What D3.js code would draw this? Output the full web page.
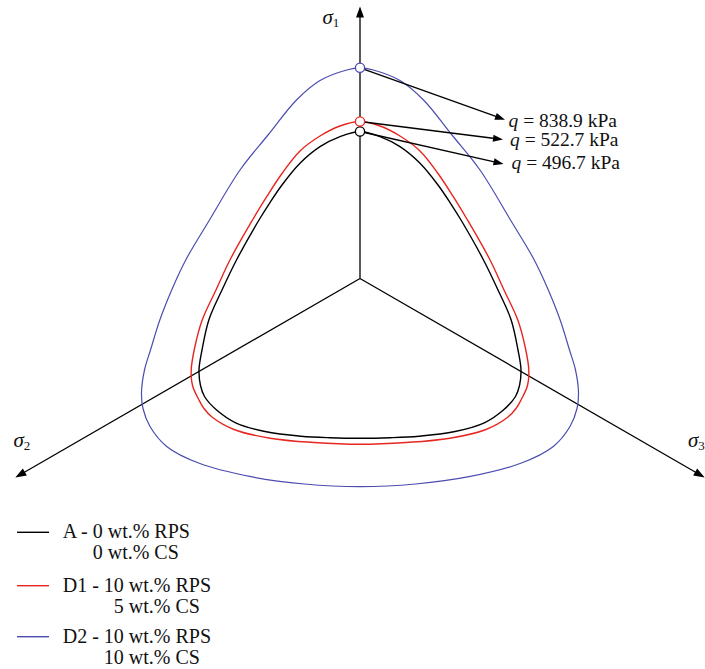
<!DOCTYPE html>
<html>
<head>
<meta charset="utf-8">
<script src="https://cdn.jsdelivr.net/npm/d3@7"></script>
<style>
  html, body { margin: 0; padding: 0; background: #fff; }
  svg { display: block; font-family: "Liberation Serif", "Times New Roman", serif; }
</style>
</head>
<body>
<svg id="chart" width="705" height="669"></svg>
<script>
// Failure envelopes in the deviatoric (pi) plane, right half only:
// [horizontal offset, vertical offset] from the hydrostatic axis, running
// from the sigma-1 meridian (top) down to the base. The left half is the mirror image.
const envelopeA = [
  [0, 147], [20, 141.8], [40, 131.8], [60, 115.2], [78, 93.5], [90.5, 75.2],
  [101, 58.5], [123.5, 18.5], [138, -11.5], [151, -41], [158, -71.5],
  [161, -91.5], [159.5, -107], [155.5, -118], [143.4, -131.5],
  [124.3, -144.3], [95, -153], [59, -157.7], [30, -159.2], [0, -159.7]
];
const envelopeD1 = [
  [0, 157], [20, 152.5], [40, 142.5], [60, 127.5], [78, 105], [93.3, 81.8],
  [107.5, 58.5], [129.8, 19], [144, -11.5], [157.8, -41.5], [165.5, -70],
  [168.8, -91.5], [167.5, -107], [161, -121.5], [156, -130], [148, -138.5],
  [126, -151], [90, -159.7], [46, -164], [0, -165.8]
];
const envelopeD2 = [
  [0, 210.7], [13.3, 208.5], [40, 198], [63.5, 178.5], [92, 143.5],
  [120, 108.5], [150.5, 58.5], [174, 19], [188.3, -11.5], [200, -41],
  [209.5, -71.5], [215.5, -91.5], [218.5, -114], [217, -130], [210, -148],
  [193, -168.2], [160.7, -184.8], [109, -198.2], [55.6, -205.5], [0, -208.2]
];

// Mixes
const mixNames = ["A", "D1", "D2"];
const rpsContent = [0, 10, 10];   // wt.% RPS
const csContent = [0, 5, 10];     // wt.% CS
const peakQ = [496.7, 522.7, 838.9]; // kPa, on the sigma-1 meridian

// Principal stress axes
const axisIndex = ["1", "2", "3"];
const axisAngle = [90, 210, 330];   // degrees, counter-clockwise from horizontal
const axisLength = [272, 398, 398];

// ---- layout and styles ----
const W = 705, H = 669;
const cx = 360, cy = 278.5;
const colours = ["#000000", "#e8261f", "#4b4cb0"];
const fontFamily = '"Liberation Serif", "Times New Roman", serif';

const svg = d3.select("#chart");

const x = d3.scaleLinear().domain([-250, 250]).range([cx - 250, cx + 250]);
const y = d3.scaleLinear().domain([-250, 250]).range([cy + 250, cy - 250]);

const envelopes = [envelopeA, envelopeD1, envelopeD2].map(half =>
  half.concat(half.slice(1, -1).reverse().map(([a, b]) => [-a, b]))
);

function arrowHead(g, tip, dir, len, halfW, colour) {
  const [ux, uy] = dir;
  const bx = tip[0] - ux * len, by = tip[1] - uy * len;
  const px = -uy, py = ux;
  g.append("path")
    .attr("d", `M${tip[0]},${tip[1]}L${bx + px * halfW},${by + py * halfW}L${bx - px * halfW},${by - py * halfW}Z`)
    .attr("fill", colour);
}

// ---- axes ----
const axesG = svg.append("g");
axisIndex.forEach((name, i) => {
  const a = axisAngle[i] * Math.PI / 180;
  const ex = axisLength[i] * Math.cos(a), ey = axisLength[i] * Math.sin(a);
  const tip = [x(ex), y(ey)];
  const dx = tip[0] - x(0), dy = tip[1] - y(0);
  const L = Math.hypot(dx, dy);
  const dir = [dx / L, dy / L];
  axesG.append("line")
    .attr("x1", x(0)).attr("y1", y(0))
    .attr("x2", tip[0] - dir[0] * 6).attr("y2", tip[1] - dir[1] * 6)
    .attr("stroke", "#000").attr("stroke-width", 1.3);
  arrowHead(axesG, tip, dir, 11, 4, "#000");
});

// axis labels
const axisLabelPos = [[322.5, 24], [13.5, 446.5], [688, 446.5]];
axisIndex.forEach((name, i) => {
  const t = svg.append("text")
    .attr("x", axisLabelPos[i][0]).attr("y", axisLabelPos[i][1])
    .attr("font-family", fontFamily).attr("fill", "#111");
  t.append("tspan").attr("font-size", 21).attr("font-style", "italic").text("σ");
  t.append("tspan").attr("font-size", 13).attr("dy", 3.3).text(name);
});

// ---- envelopes ----
const line = d3.line()
  .x(d => x(d[0])).y(d => y(d[1]))
  .curve(d3.curveCatmullRomClosed.alpha(0.5));

const envG = svg.append("g");
[2, 1, 0].forEach(i => {
  envG.append("path")
    .attr("d", line(envelopes[i]))
    .attr("fill", "none")
    .attr("stroke", colours[i])
    .attr("stroke-width", i === 2 ? 1.2 : 1.4);
});

// ---- peak annotations ----
const arrowTips = [[503.5, 164], [503, 139.5], [505, 119.7]];
const noteAnchor = [[511.5, 168.5], [510, 145.5], [508.5, 126.5]];
const noteG = svg.append("g");
peakQ.forEach((q, i) => {
  const start = [x(0), y(envelopes[i][0][1])];
  const tip = arrowTips[i];
  const dx = tip[0] - start[0], dy = tip[1] - start[1];
  const L = Math.hypot(dx, dy);
  const dir = [dx / L, dy / L];
  noteG.append("line")
    .attr("x1", start[0]).attr("y1", start[1])
    .attr("x2", tip[0] - dir[0] * 6).attr("y2", tip[1] - dir[1] * 6)
    .attr("stroke", "#000").attr("stroke-width", 1.3);
  arrowHead(noteG, tip, dir, 10, 3.6, "#000");
  const t = noteG.append("text")
    .attr("x", noteAnchor[i][0]).attr("y", noteAnchor[i][1])
    .attr("font-family", fontFamily).attr("font-size", 19.5).attr("fill", "#111");
  t.append("tspan").attr("font-style", "italic").text("q");
  t.append("tspan").text(` = ${q.toFixed(1)} kPa`);
});
// markers on the sigma-1 meridian
peakQ.forEach((q, i) => {
  noteG.append("circle")
    .attr("cx", x(0)).attr("cy", y(envelopes[i][0][1]))
    .attr("r", 4.6)
    .attr("fill", "#fff")
    .attr("stroke", colours[i])
    .attr("stroke-width", 1.3);
});

// ---- legend ----
const legendLineY = [532.3, 585.7, 636.7];
const legendX0 = 17, legendX1 = 49, legendTextX = 62.7;
const legendG = svg.append("g")
  .attr("font-family", fontFamily).attr("font-size", 20).attr("fill", "#111");

function textWidth(str) {
  const t = legendG.append("text").text(str);
  const w = t.node().getComputedTextLength();
  t.remove();
  return w;
}

mixNames.forEach((name, i) => {
  const ly = legendLineY[i];
  legendG.append("line")
    .attr("x1", legendX0).attr("x2", legendX1)
    .attr("y1", ly).attr("y2", ly)
    .attr("stroke", colours[i]).attr("stroke-width", 1.4);
  const lead = `${name} - ${rpsContent[i]}`;
  legendG.append("text")
    .attr("x", legendTextX).attr("y", ly + 6)
    .text(`${lead} wt.% RPS`);
  const alignX = legendTextX + textWidth(lead) - textWidth(`${csContent[i]}`);
  legendG.append("text")
    .attr("x", alignX).attr("y", ly + 27)
    .text(`${csContent[i]} wt.% CS`);
});
</script>
</body>
</html>
